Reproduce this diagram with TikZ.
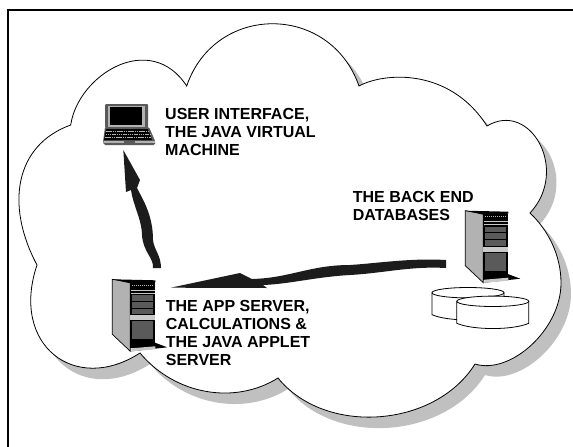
\documentclass[tikz,border=0pt]{standalone}
\usepackage{fontspec}
\setmainfont{Liberation Sans}
\usetikzlibrary{positioning}
\definecolor{shadowgray}{RGB}{192,192,192}
\definecolor{sidegray}{RGB}{178,178,178}
\definecolor{panelgray}{RGB}{90,90,90}
\definecolor{arrowblack}{RGB}{28,28,28}
\newcommand{\cloudpath}{(70.7,125) .. controls (78,75) and (150,30) .. (186.7,86)
    .. controls (215,3) and (330,3) .. (359,86)
    .. controls (385,72) and (450,68) .. (487,126)
    .. controls (530,100) and (570,170) .. (530,213)
    .. controls (548,230) and (561,255) .. (561,283)
    .. controls (561,330) and (510,375) .. (475,364)
    .. controls (435,428) and (325,436) .. (278,378)
    .. controls (235,405) and (175,395) .. (140,353)
    .. controls (75,395) and (10,345) .. (37,265)
    .. controls (5,205) and (15,145) .. (70.7,125) -- cycle}
\tikzset{
    label/.style={anchor=north west, inner sep=0pt, align=left, font=\fontsize{16}{17.9}\selectfont\bfseries},
    serverpic/.pic={
        % Side and top
        \fill[sidegray] (0,0) -- (18,3) -- (18,72) -- (0,55) -- cycle;
        \draw[line width=0.7pt] (0,55) -- (0,0) -- (18,3) -- (18,72) -- cycle;
        \fill[black] (0,0) -- (43,1) -- (43,3) -- (18,4) -- cycle;
        % Foot
        \fill[black] (39,62) -- (55,68) -- (19,72) -- cycle;
        % Front
        \fill[black] (18,3) rectangle (43,69);
        \fill[panelgray] (20,16) rectangle (41,35);
        \draw[black, line width=0.6pt] (20,22) -- (41,22) (20,29) -- (41,29);
        \fill[sidegray!70] (18,36) rectangle (43,41);
        \fill[panelgray] (20,42) rectangle (41,60);
        \fill[sidegray!70] (19,69) -- (43,67) -- (43,70) -- (19,72) -- cycle;
        \draw[sidegray!70, line width=0.8pt] (19,11) -- (43,11) (19,14) -- (43,14);
        \draw[sidegray, line width=0.6pt, dash pattern=on 1pt off 1pt] (20,6) -- (42,6);
    },
    laptoppic/.pic={
        % Screen
        \fill[panelgray, rounded corners=1pt] (1,0) rectangle (44,24);
        \fill[sidegray] (4,2) rectangle (41,23);
        \fill[black] (6,3) rectangle (38,21);
        % Keyboard and base
        \fill[panelgray, rounded corners=1.5pt] (1,23) -- (45,23) -- (51.5,38) -- (51,41) -- (0,41) -- (-1,38) -- cycle;
        \fill[sidegray] (-0.5,37) rectangle (51,39);
        \fill[black] (2,25) -- (44,25) -- (48,36) -- (0,36) -- cycle;
        \draw[sidegray, line width=0.4pt, dash pattern=on 1.5pt off 0.7pt] (2,27.5) -- (45,27.5) (1.5,30) -- (46,30) (1,33) -- (47,33);
        \fill[panelgray] (20,37) rectangle (31,39);
    },
    diskpic/.pic={
        \draw[fill=white, line width=0.8pt] (-36,0) -- (-36,22) .. controls (-20,29) and (20,29) .. (36,22) -- (36,0) -- cycle;
        \draw[fill=white, line width=0.8pt] (0,0) ellipse (36 and 5.2);
    }
}
\begin{document}
\begin{tikzpicture}[x=1pt, y=-1pt]
    \useasboundingbox (0,0) rectangle (573,447);
    % Frame
    \draw[line width=2pt] (7.7,447) -- (7.7,10) -- (573,10);

    % Cloud and its shadow
    \fill[shadowgray, shift={(10,11)}] \cloudpath;
    \draw[fill=white, line width=0.8pt] \cloudpath;

    % Laptop and servers
    \pic at (104,104) {laptoppic};
    \pic at (112.3,279.3) {serverpic};
    \pic at (465.3,210.7) {serverpic};

    % Disks
    \pic at (468,292.7) {diskpic};
    \pic at (492.8,301.3) {diskpic};

    % Arrows
    \coordinate (uitip) at (123.3,150);
    \coordinate (apptip) at (170.7,287.7);
    \fill[arrowblack] (uitip) -- (140,180) -- (137,188)
        .. controls (143,200) and (153,215) .. (153,240)
        .. controls (154,250) and (161,255) .. (161,268) -- (153,268)
        .. controls (154,258) and (143,252) .. (142,235)
        .. controls (142,220) and (133,205) .. (131,190) -- (126,192) -- cycle;
    \fill[arrowblack] (apptip) -- (240,273) -- (252,279)
        .. controls (290,278) and (310,265) .. (350,265)
        .. controls (380,263) and (410,258) .. (446,260) -- (446,268)
        .. controls (410,266) and (385,273) .. (350,275)
        .. controls (315,277) and (290,284) .. (263,285) -- (267,288) -- cycle;

    % Labels
    \node[label] (userlabel) at (165,108.5) {USER INTERFACE,\\THE JAVA VIRTUAL\\MACHINE};
    \node[label] (backlabel) at (352.7,191) {THE BACK END\\DATABASES};
    \node[label] (applabel) at (165.7,300) {THE APP SERVER,\\CALCULATIONS \&\\THE JAVA APPLET\\SERVER};
\end{tikzpicture}
\end{document}
